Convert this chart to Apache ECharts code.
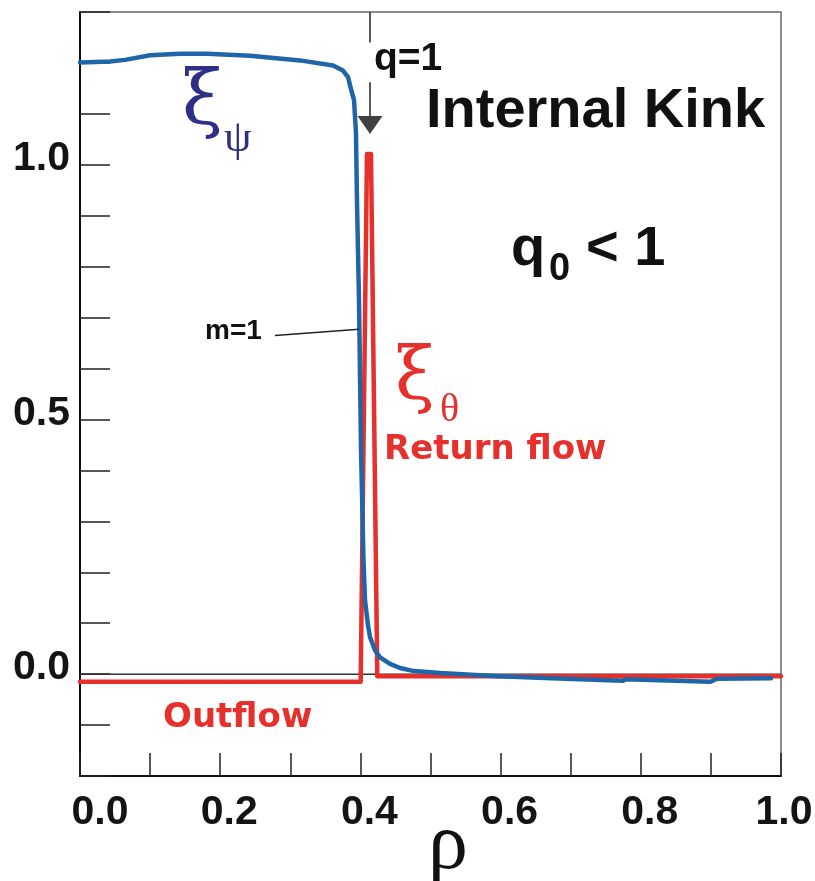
<!DOCTYPE html>
<html><head><meta charset="utf-8">
<script src="https://cdn.jsdelivr.net/npm/echarts@6/dist/echarts.min.js"></script>
<style>html,body{margin:0;padding:0;background:#fff}#c{width:815px;height:881px}</style>
</head><body><div id="c"></div>
<script>
// ξψ (blue) profile
const xiPsiRho = [0, 0.0428, 0.0642, 0.0999, 0.1427, 0.1812, 0.2425, 0.3138, 0.3609, 0.3752, 0.3824, 0.3871, 0.3909, 0.3937, 0.3951, 0.3980, 0.4009, 0.4044, 0.4066, 0.4108, 0.4137, 0.4208, 0.4280, 0.4422, 0.4565, 0.4765, 0.5136, 0.5963, 0.6929, 0.7746, 0.7789, 0.8994, 0.9087, 0.9857];
const xiPsiVal = [1.201, 1.203, 1.206, 1.215, 1.218, 1.218, 1.214, 1.205, 1.195, 1.185, 1.172, 1.146, 1.127, 1.062, 0.930, 0.734, 0.440, 0.224, 0.145, 0.096, 0.073, 0.047, 0.033, 0.020, 0.012, 0.006, 0.002, -0.004, -0.009, -0.013, -0.010, -0.015, -0.009, -0.008];
// ξθ (red) profile
const xiThetaRho = [0, 0.4004, 0.4094, 0.4151, 0.4241, 1.0];
const xiThetaVal = [-0.015, -0.015, 1.021, 1.021, -0.004, -0.004];
// zero reference line
const zeroRho = [0, 1];
const zeroVal = [0, 0];
// q=1 marker
const qRho = 0.4137;
const qStemVal = [1.3, 1.240];
const qShaftVal = [1.162, 1.096];
const qTipVal = [1.078];
// m=1 pointer
const mPointerRho = [0.278, 0.398];
const mPointerVal = [0.665, 0.677];
// tick labels
const xTickLabels = ['0.0', '0.2', '0.4', '0.6', '0.8', '1.0'];
const yTickLabels = ['0.0', '0.5', '1.0'];

const zip = (a, b) => a.map((v, i) => [v, b[i]]);
const numFont = {fontFamily: 'Liberation Sans, Arial, sans-serif', fontWeight: 'bold', fontSize: 41, color: '#141414', lineHeight: 41};

const chart = echarts.init(document.getElementById('c'), null, {renderer: 'canvas'});
const lineBase = {type: 'line', showSymbol: false, silent: true, animation: false};

const option = {
  backgroundColor: '#fff',
  animation: false,
  grid: {left: 80, right: 34, top: 12, bottom: 105, show: true, borderColor: '#666', borderWidth: 1.5, containLabel: false, outerBoundsMode: 'none'},
  xAxis: {
    type: 'value', min: 0, max: 1, interval: 0.1,
    axisLine: {onZero: false, lineStyle: {color: '#111', width: 2}},
    axisTick: {inside: true, length: 23, lineStyle: {color: '#222', width: 1.5}},
    splitLine: {show: false},
    axisLabel: {
      margin: 16,
      formatter: (v) => {
        const s = v.toFixed(1);
        const i = xTickLabels.indexOf(s);
        if (i < 0) return '';
        const st = i === 0 ? 'f' : (i === xTickLabels.length - 1 ? 'l' : 'm');
        return '{' + st + '|' + s + '}';
      },
      rich: {
        f: Object.assign({padding: [0, 0, 0, 40]}, numFont),
        m: Object.assign({padding: [0, 0, 0, 18]}, numFont),
        l: Object.assign({padding: [0, 0, 0, 6]}, numFont)
      }
    }
  },
  yAxis: {
    type: 'value', min: -0.2, max: 1.3, interval: 0.1,
    axisLine: {onZero: false, lineStyle: {color: '#111', width: 2}},
    axisTick: {inside: true, length: 30, lineStyle: {color: '#222', width: 1.5}},
    splitLine: {show: false},
    axisLabel: {
      margin: 10,
      formatter: (v) => {
        const s = (Math.round(v * 10) / 10).toFixed(1);
        return yTickLabels.indexOf(s) >= 0 ? '{a|' + s + '}' : '';
      },
      rich: {a: Object.assign({padding: [0, 0, 12, 0]}, numFont)}
    }
  },
  series: [
    Object.assign({}, lineBase, {name: 'zero', data: zip(zeroRho, zeroVal), z: 1,
      lineStyle: {color: '#333', width: 1.5}}),
    Object.assign({}, lineBase, {name: 'xi_theta', data: zip(xiThetaRho, xiThetaVal), z: 3,
      lineStyle: {color: '#e5302b', width: 4.5, join: 'round', cap: 'round'}}),
    Object.assign({}, lineBase, {name: 'xi_psi', data: zip(xiPsiRho, xiPsiVal), z: 4,
      lineStyle: {color: '#1f66a8', width: 4.5, join: 'round', cap: 'round'}}),
    Object.assign({}, lineBase, {name: 'qStem', data: qStemVal.map(v => [qRho, v]), z: 5,
      lineStyle: {color: '#222', width: 1.5}}),
    Object.assign({}, lineBase, {name: 'qShaft', data: qShaftVal.map(v => [qRho, v]), z: 5,
      lineStyle: {color: '#222', width: 1.5}}),
    {type: 'scatter', name: 'qTip', silent: true, animation: false, z: 5,
      data: qTipVal.map(v => [qRho, v]), symbol: 'triangle', symbolRotate: 180, symbolSize: [25, 18],
      itemStyle: {color: '#111'}},
    Object.assign({}, lineBase, {name: 'mPointer', data: zip(mPointerRho, mPointerVal), z: 5,
      lineStyle: {color: '#222', width: 1.5}})
  ],
  graphic: [
    {type: 'text', x: 374, y: 59, style: {text: 'q=1', font: 'bold 39px "Liberation Sans", Arial, sans-serif', fill: '#111', align: 'left', verticalAlign: 'middle'}},
    {type: 'text', x: 426, y: 112, style: {text: 'Internal Kink', font: 'bold 56px "Liberation Sans", Arial, sans-serif', fill: '#111', align: 'left', verticalAlign: 'middle'}},
    {type: 'text', x: 511, y: 250, style: {text: 'q', font: 'bold 56px "Liberation Sans", Arial, sans-serif', fill: '#111', align: 'left', verticalAlign: 'middle'}},
    {type: 'text', x: 549, y: 270, style: {text: '0', font: 'bold 38px "Liberation Sans", Arial, sans-serif', fill: '#111', align: 'left', verticalAlign: 'middle'}},
    {type: 'text', x: 586, y: 250, style: {text: '< 1', font: 'bold 56px "Liberation Sans", Arial, sans-serif', fill: '#111', align: 'left', verticalAlign: 'middle'}},
    {type: 'text', x: 205, y: 331, style: {text: 'm=1', font: 'bold 28px "Liberation Sans", Arial, sans-serif', fill: '#111', align: 'left', verticalAlign: 'middle'}},
    {type: 'text', x: 384, y: 450, style: {text: 'Return flow', font: 'bold 34px "DejaVu Sans", sans-serif', fill: '#e5302b', align: 'left', verticalAlign: 'middle'}},
    {type: 'text', x: 163, y: 718, style: {text: 'Outflow', font: 'bold 34px "DejaVu Sans", sans-serif', fill: '#e5302b', align: 'left', verticalAlign: 'middle'}},
    {type: 'text', x: 182, y: 104, style: {text: 'ξ', font: '74px "DejaVu Serif", serif', fill: '#2e2f86', align: 'left', verticalAlign: 'middle'}},
    {type: 'text', x: 224, y: 139, style: {text: 'ψ', font: '44px "Liberation Serif", "DejaVu Serif", serif', fill: '#2e2f86', align: 'left', verticalAlign: 'middle'}},
    {type: 'text', x: 395, y: 380, style: {text: 'ξ', font: '72px "DejaVu Serif", serif', fill: '#e5302b', align: 'left', verticalAlign: 'middle'}},
    {type: 'text', x: 440, y: 410, style: {text: 'θ', font: '40px "Liberation Serif", "DejaVu Serif", serif', fill: '#e5302b', align: 'left', verticalAlign: 'middle'}},
    {type: 'text', x: 448, y: 847, style: {text: 'ρ', font: '80px "Liberation Serif", "DejaVu Serif", serif', fill: '#111', align: 'center', verticalAlign: 'middle'}}
  ]
};
chart.setOption(option);
</script>
</body></html>
